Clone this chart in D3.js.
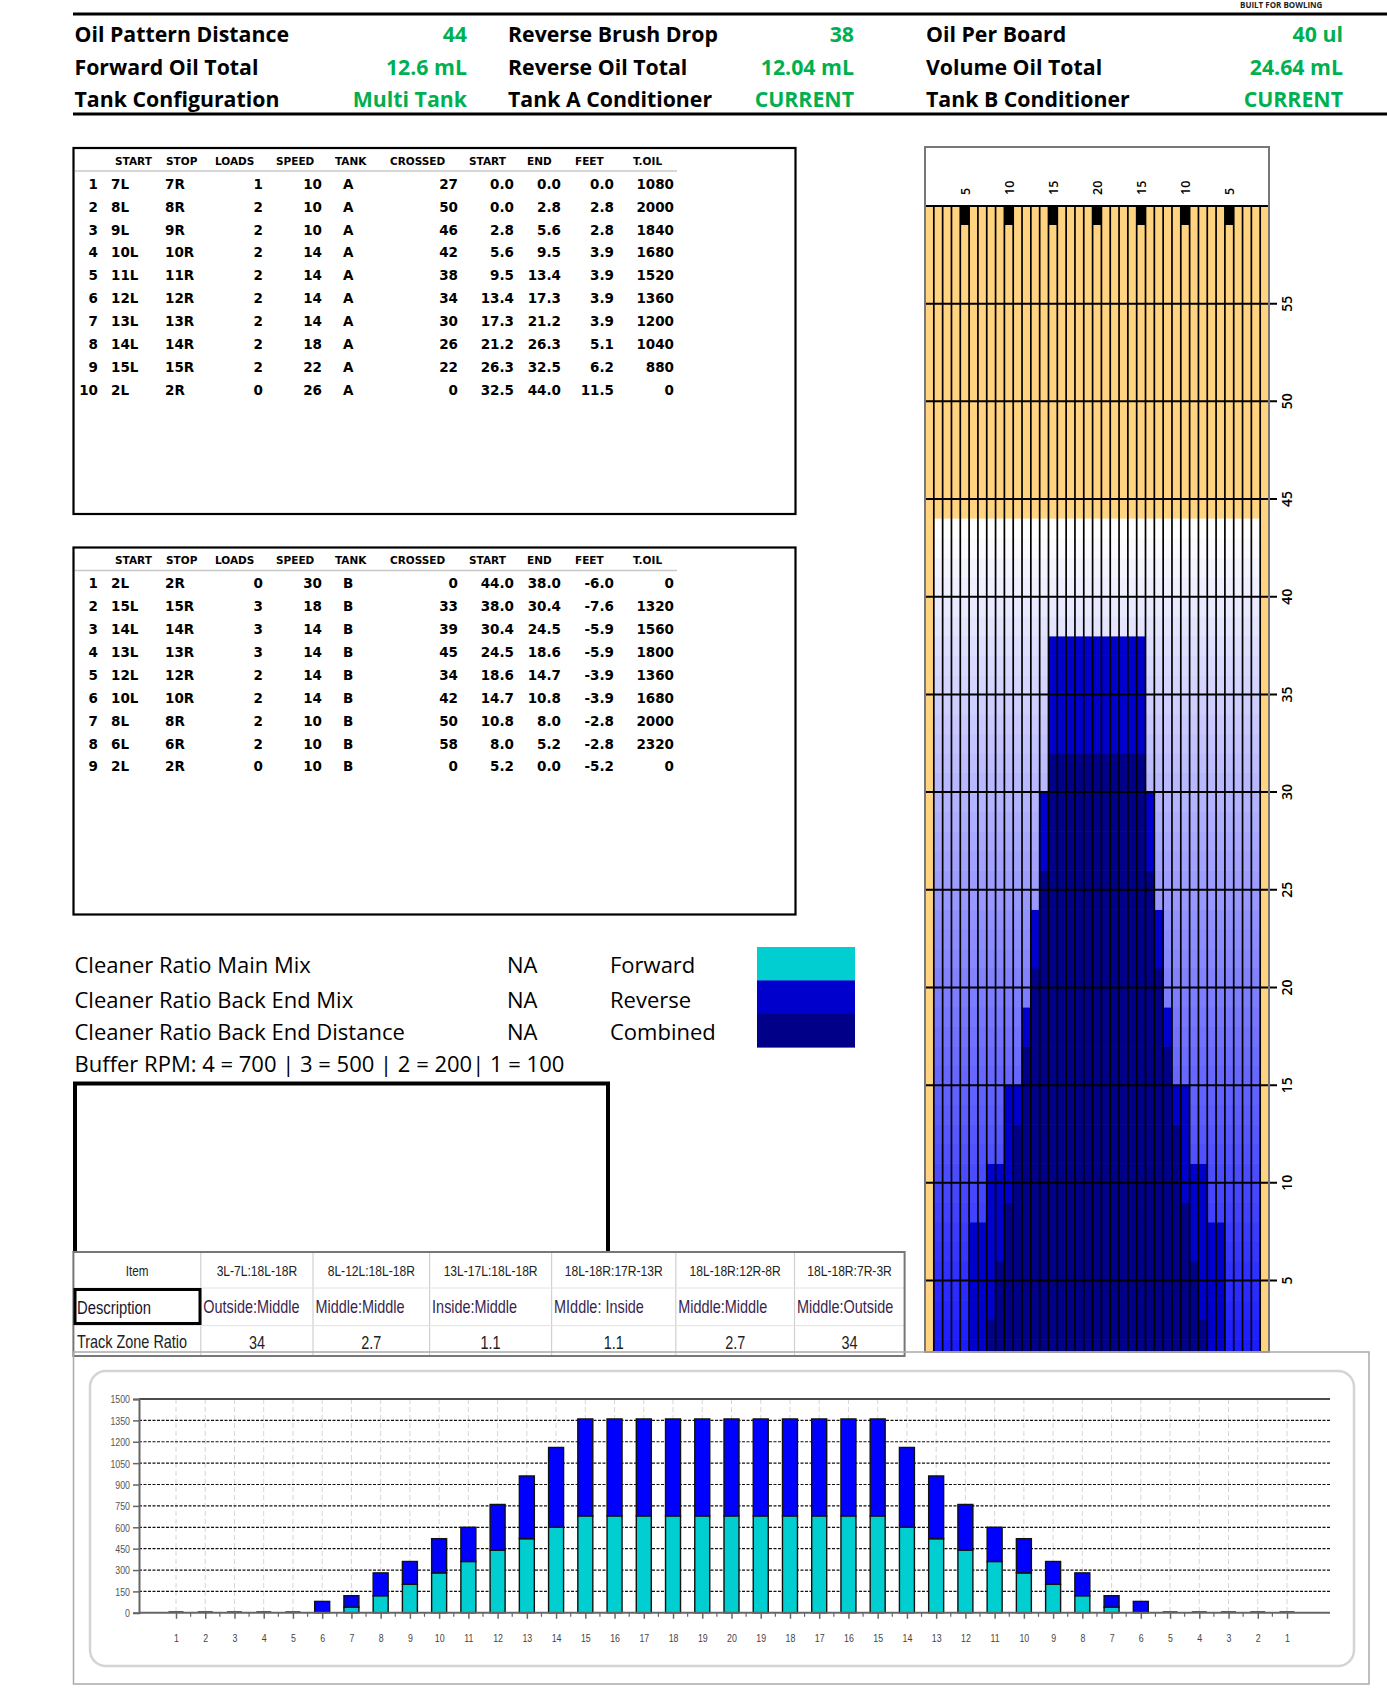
<!DOCTYPE html>
<html>
<head>
<meta charset="utf-8">
<script src="https://cdn.jsdelivr.net/npm/d3@7"></script>
<style>
  body { margin: 0; background: #fff; }
  svg { display: block; }
</style>
</head>
<body>
<svg id="chart" width="1387" height="1693"></svg>
<script>
// ---- data ----
const infoLabels = [
  ["Oil Pattern Distance", "Forward Oil Total", "Tank Configuration"],
  ["Reverse Brush Drop", "Reverse Oil Total", "Tank A Conditioner"],
  ["Oil Per Board", "Volume Oil Total", "Tank B Conditioner"]
]
const infoValues = [
  ["44", "12.6 mL", "Multi Tank"],
  ["38", "12.04 mL", "CURRENT"],
  ["40 ul", "24.64 mL", "CURRENT"]
]

const tableHeaders = ["START", "STOP", "LOADS", "SPEED", "TANK", "CROSSED", "START", "END", "FEET", "T.OIL"]

// idx, start, stop, loads, speed, tank, crossed, start ft, end ft, feet, total oil
const forwardRows = [
  [1, "7L", "7R", 1, 10, "A", 27, 0.0, 0.0, 0.0, 1080],
  [2, "8L", "8R", 2, 10, "A", 50, 0.0, 2.8, 2.8, 2000],
  [3, "9L", "9R", 2, 10, "A", 46, 2.8, 5.6, 2.8, 1840],
  [4, "10L", "10R", 2, 14, "A", 42, 5.6, 9.5, 3.9, 1680],
  [5, "11L", "11R", 2, 14, "A", 38, 9.5, 13.4, 3.9, 1520],
  [6, "12L", "12R", 2, 14, "A", 34, 13.4, 17.3, 3.9, 1360],
  [7, "13L", "13R", 2, 14, "A", 30, 17.3, 21.2, 3.9, 1200],
  [8, "14L", "14R", 2, 18, "A", 26, 21.2, 26.3, 5.1, 1040],
  [9, "15L", "15R", 2, 22, "A", 22, 26.3, 32.5, 6.2, 880],
  [10, "2L", "2R", 0, 26, "A", 0, 32.5, 44.0, 11.5, 0]
]
const reverseRows = [
  [1, "2L", "2R", 0, 30, "B", 0, 44.0, 38.0, -6.0, 0],
  [2, "15L", "15R", 3, 18, "B", 33, 38.0, 30.4, -7.6, 1320],
  [3, "14L", "14R", 3, 14, "B", 39, 30.4, 24.5, -5.9, 1560],
  [4, "13L", "13R", 3, 14, "B", 45, 24.5, 18.6, -5.9, 1800],
  [5, "12L", "12R", 2, 14, "B", 34, 18.6, 14.7, -3.9, 1360],
  [6, "10L", "10R", 2, 14, "B", 42, 14.7, 10.8, -3.9, 1680],
  [7, "8L", "8R", 2, 10, "B", 50, 10.8, 8.0, -2.8, 2000],
  [8, "6L", "6R", 2, 10, "B", 58, 8.0, 5.2, -2.8, 2320],
  [9, "2L", "2R", 0, 10, "B", 0, 5.2, 0.0, -5.2, 0]
]

const legendLabels = ["Cleaner Ratio Main Mix", "Cleaner Ratio Back End Mix", "Cleaner Ratio Back End Distance"]
const legendValues = ["NA", "NA", "NA"]
const swatchLabels = ["Forward", "Reverse", "Combined"]
const bufferText = "Buffer RPM: 4 = 700 | 3 = 500 | 2 = 200| 1 = 100"

const zoneItems = ["3L-7L:18L-18R", "8L-12L:18L-18R", "13L-17L:18L-18R", "18L-18R:17R-13R", "18L-18R:12R-8R", "18L-18R:7R-3R"]
const zoneDesc = ["Outside:Middle", "Middle:Middle", "Inside:Middle", "MIddle: Inside", "Middle:Middle", "Middle:Outside"]
const zoneRatio = ["34", "2.7", "1.1", "1.1", "2.7", "34"]

const boardLabels = [1,2,3,4,5,6,7,8,9,10,11,12,13,14,15,16,17,18,19,20,19,18,17,16,15,14,13,12,11,10,9,8,7,6,5,4,3,2,1]
const forwardOil = [0,0,0,0,0,0,40,120,200,280,360,440,520,600,680,680,680,680,680,680,680,680,680,680,680,600,520,440,360,280,200,120,40,0,0,0,0,0,0]
const reverseOil = [0,0,0,0,0,80,80,160,160,240,240,320,440,560,680,680,680,680,680,680,680,680,680,680,680,560,440,320,240,240,160,160,80,80,0,0,0,0,0]

const laneTopLabels = [5, 10, 15, 20, 15, 10, 5]
const laneArrowBoards = [5, 10, 15, 20, 25, 30, 35]
const laneFeetTicks = [5, 10, 15, 20, 25, 30, 35, 40, 45, 50, 55]
const patternLength = 44
const oilTicks = [0, 150, 300, 450, 600, 750, 900, 1050, 1200, 1350, 1500]

// ---- colours ----
const green = "#00b050"
const cyan = "#00ced1"
const revBlue = "#0000cc"
const navy = "#000088"
const barBlue = "#0000ff"
const laneYellow = "#ffd37f"

const svg = d3.select("#chart")
const narrow = (sel, sx) => sel.attr("transform", function () {
  return `translate(${this.getAttribute("data-x")},${this.getAttribute("data-y")}) scale(${sx},1)`
})

// ---- header block ----
svg.append("text").attr("x", 1240).attr("y", 8)
  .attr("font-family", "Open Sans").attr("font-weight", 700).attr("font-size", 8)
  .attr("fill", "#222").text("BUILT FOR BOWLING")

const headRule = [14, 114]
svg.selectAll("line.rule").data(headRule).join("line")
  .attr("x1", 73).attr("x2", 1387).attr("y1", d => d).attr("y2", d => d)
  .attr("stroke", "#000").attr("stroke-width", 3)

const infoColsX = [{ l: 74.5, v: 467 }, { l: 508, v: 854 }, { l: 926, v: 1343 }]
const infoY = [42, 75, 107]
infoLabels.forEach((col, c) => {
  col.forEach((lab, r) => {
    svg.append("text").attr("x", infoColsX[c].l).attr("y", infoY[r])
      .attr("font-family", "Open Sans").attr("font-weight", 700).attr("font-size", 21.3)
      .attr("fill", "#000").text(lab)
    svg.append("text").attr("x", infoColsX[c].v).attr("y", infoY[r])
      .attr("text-anchor", "end")
      .attr("font-family", "Open Sans").attr("font-weight", 700).attr("font-size", 21.3)
      .attr("fill", green).text(infoValues[c][r])
  })
})

// ---- load tables ----
const colLayout = [
  { h: 115, d: 111, a: "start" },
  { h: 166, d: 165, a: "start" },
  { h: 215, d: 263, a: "end" },
  { h: 276, d: 322, a: "end" },
  { h: 335, d: 343, a: "start" },
  { h: 390, d: 458, a: "end" },
  { h: 469, d: 514, a: "end" },
  { h: 527, d: 561, a: "end" },
  { h: 575, d: 614, a: "end" },
  { h: 633, d: 674, a: "end" }
]

function drawTable(rows, top, bottom) {
  const g = svg.append("g")
  g.append("rect").attr("x", 73.5).attr("y", top).attr("width", 722).attr("height", bottom - top)
    .attr("fill", "#fff").attr("stroke", "#000").attr("stroke-width", 2.2)
  const hy = top + 13
  g.selectAll("text.h").data(tableHeaders).join("text")
    .attr("x", (d, i) => colLayout[i].h).attr("y", hy).attr("dy", "0.35em")
    .attr("font-family", "DejaVu Sans").attr("font-weight", 700).attr("font-size", 10.5)
    .text(d => d)
  g.append("line").attr("x1", 75).attr("x2", 677).attr("y1", top + 23).attr("y2", top + 23)
    .attr("stroke", "#c8c8c8").attr("stroke-width", 1.5)
  const rowY = i => top + 36 + i * 22.9
  rows.forEach((row, i) => {
    g.append("text").attr("x", 98).attr("y", rowY(i)).attr("dy", "0.35em").attr("text-anchor", "end")
      .attr("font-family", "DejaVu Sans").attr("font-weight", 700).attr("font-size", 13.5)
      .text(row[0])
    row.slice(1).forEach((v, j) => {
      const txt = (j >= 6 && j <= 8) ? v.toFixed(1) : String(v)
      g.append("text").attr("x", colLayout[j].d).attr("y", rowY(i)).attr("dy", "0.35em")
        .attr("text-anchor", colLayout[j].a)
        .attr("font-family", "DejaVu Sans").attr("font-weight", 700).attr("font-size", 13.5)
        .text(txt)
    })
  })
}
drawTable(forwardRows, 148, 514)
drawTable(reverseRows, 547.5, 914.5)

// ---- legend ----
const legY = [965, 1000, 1032]
const legFont = 22
legendLabels.forEach((lab, i) => {
  svg.append("text").attr("x", 74.5).attr("y", legY[i]).attr("dy", "0.35em")
    .attr("font-family", "Open Sans").attr("font-size", legFont).text(lab)
  svg.append("text").attr("x", 507).attr("y", legY[i]).attr("dy", "0.35em")
    .attr("font-family", "Open Sans").attr("font-size", legFont).text(legendValues[i])
  svg.append("text").attr("x", 610).attr("y", legY[i]).attr("dy", "0.35em")
    .attr("font-family", "Open Sans").attr("font-size", legFont).text(swatchLabels[i])
})
svg.append("text").attr("x", 74.5).attr("y", 1064.5).attr("dy", "0.35em")
  .attr("font-family", "Open Sans").attr("font-size", legFont).text(bufferText)
const swatchColors = [cyan, revBlue, navy]
svg.selectAll("rect.sw").data(swatchColors).join("rect")
  .attr("x", 757).attr("width", 98)
  .attr("y", (d, i) => 947 + i * 33.4).attr("height", 33.8)
  .attr("fill", d => d)

// empty box
svg.append("rect").attr("x", 75).attr("y", 1083.5).attr("width", 533).attr("height", 180)
  .attr("fill", "#fff").attr("stroke", "#000").attr("stroke-width", 4)

// ---- zone table ----
const zCols = [73.4, 200.8, 313, 429.6, 551.6, 675.8, 794.5, 904.6]
const zRows = [1252, 1288, 1325.6, 1356]
const zg = svg.append("g")
zg.append("rect").attr("x", zCols[0]).attr("y", zRows[0])
  .attr("width", zCols[7] - zCols[0]).attr("height", zRows[3] - zRows[0]).attr("fill", "#fff")
zg.selectAll("line.zc").data(zCols.slice(1, 7)).join("line")
  .attr("x1", d => d).attr("x2", d => d).attr("y1", zRows[0]).attr("y2", zRows[3])
  .attr("stroke", "#d0d0d0").attr("stroke-width", 1.2)
zg.selectAll("line.zr").data([zRows[1], zRows[2]]).join("line")
  .attr("x1", zCols[0]).attr("x2", zCols[7]).attr("y1", d => d).attr("y2", d => d)
  .attr("stroke", "#e2e2e2").attr("stroke-width", 1)
zg.append("rect").attr("x", zCols[0]).attr("y", zRows[0])
  .attr("width", zCols[7] - zCols[0]).attr("height", zRows[3] - zRows[0])
  .attr("fill", "none").attr("stroke", "#777").attr("stroke-width", 2)
zg.append("rect").attr("x", 75).attr("y", 1289.5).attr("width", 125).attr("height", 34)
  .attr("fill", "none").attr("stroke", "#000").attr("stroke-width", 3)

const zText = (x, y, txt, anchor, size, color) => zg.append("text")
  .attr("data-x", x).attr("data-y", y).attr("dy", "0.35em").attr("text-anchor", anchor)
  .attr("font-family", "Liberation Sans").attr("font-size", size).attr("fill", color).text(txt)
  .call(narrow, 0.78)
zText((zCols[0] + zCols[1]) / 2, 1271, "Item", "middle", 15, "#222")
zText(77, 1307, "Description", "start", 19, "#1a1430")
zText(77, 1342, "Track Zone Ratio", "start", 18.5, "#222")
zoneItems.forEach((t, i) => {
  const cx = (zCols[i + 1] + zCols[i + 2]) / 2
  zText(cx, 1271, t, "middle", 15.5, "#222")
  zText(zCols[i + 1] + 2.5, 1307, zoneDesc[i], "start", 18.5, "#3a1f4e")
  zText(cx, 1343, zoneRatio[i], "middle", 18.5, "#222")
})

// ---- lane heat map ----
const bx = d3.scaleBand().domain(d3.range(1, 40)).range([925, 1269])
const fy = d3.scaleLinear().domain([0, 60]).range([1378.2, 206])
const laneBottom = 1352

const qf = v => Math.ceil(v - 0.5)
function reach(rows, distIdx) {
  return d3.range(1, 40).map(b => {
    let r = -1
    rows.forEach(row => {
      const n = parseInt(row[1])
      if (row[3] > 0 && b >= n && b <= 40 - n) r = Math.max(r, qf(row[distIdx]))
    })
    return r
  })
}
const fwdReach = reach(forwardRows, 8)
const revReach = reach(reverseRows, 7)
const fade = d3.interpolateRgb("#ffffff", "#1010ff")

const cells = []
for (let b = 2; b <= 38; b++) {
  for (let f = 0; f < patternLength; f++) {
    const fr = fwdReach[b - 1], rr = revReach[b - 1]
    let c
    if (f < fr && f < rr) c = navy
    else if (f < rr) c = revBlue
    else if (f < fr) c = cyan
    else c = fade(1 - (f + 1) / patternLength)
    cells.push({ b, f, c })
  }
}

svg.append("clipPath").attr("id", "laneClip")
  .append("rect").attr("x", 925).attr("y", 147).attr("width", 344).attr("height", laneBottom - 147)
const lane = svg.append("g").attr("clip-path", "url(#laneClip)")
lane.append("rect").attr("x", 925).attr("y", 147).attr("width", 344).attr("height", laneBottom - 147).attr("fill", "#fff")
lane.append("rect").attr("x", 925).attr("y", fy(60)).attr("width", 344).attr("height", laneBottom - fy(60)).attr("fill", laneYellow)
lane.selectAll("rect.cell").data(cells).join("rect")
  .attr("x", d => bx(d.b)).attr("width", bx.bandwidth())
  .attr("y", d => fy(d.f + 1)).attr("height", d => fy(d.f) - fy(d.f + 1) + 0.6)
  .attr("fill", d => d.c)
lane.selectAll("rect.arrow").data(laneArrowBoards).join("rect")
  .attr("x", d => bx(d)).attr("width", bx.bandwidth())
  .attr("y", fy(60)).attr("height", 19).attr("fill", "#000")
lane.selectAll("line.board").data(d3.range(2, 40)).join("line")
  .attr("x1", d => bx(d)).attr("x2", d => bx(d)).attr("y1", fy(60)).attr("y2", laneBottom)
  .attr("stroke", "#000").attr("stroke-width", 1.7)
lane.append("line").attr("x1", 925).attr("x2", 1269).attr("y1", fy(60)).attr("y2", fy(60))
  .attr("stroke", "#000").attr("stroke-width", 2)

svg.selectAll("line.feet").data(laneFeetTicks).join("line")
  .attr("x1", 926).attr("x2", 1277).attr("y1", d => fy(d)).attr("y2", d => fy(d))
  .attr("stroke", "#000").attr("stroke-width", 2)
svg.selectAll("text.feet").data(laneFeetTicks).join("text")
  .attr("transform", d => `translate(1292,${fy(d)}) rotate(-90)`)
  .attr("text-anchor", "middle")
  .attr("font-family", "Open Sans").attr("font-weight", 600).attr("font-size", 14)
  .text(d => d)
svg.selectAll("text.top").data(laneTopLabels).join("text")
  .attr("transform", (d, i) => `translate(${bx(laneArrowBoards[i]) + bx.bandwidth() / 2 + 5},195) rotate(-90)`)
  .attr("font-family", "Open Sans").attr("font-weight", 600).attr("font-size", 12.5)
  .text(d => d)
svg.append("rect").attr("x", 925).attr("y", 147).attr("width", 344).attr("height", laneBottom - 147)
  .attr("fill", "none").attr("stroke", "#777").attr("stroke-width", 2)

// ---- bar chart ----
svg.append("rect").attr("x", 73.5).attr("y", 1352).attr("width", 1295.5).attr("height", 332)
  .attr("fill", "none").attr("stroke", "#aaa").attr("stroke-width", 1.5)
svg.append("rect").attr("x", 90).attr("y", 1371).attr("width", 1264).attr("height", 295).attr("rx", 16)
  .attr("fill", "#fff").attr("stroke", "#d4d4d4").attr("stroke-width", 2.5)

const boards = d3.range(1, 40)
const x = d3.scalePoint().domain(boards).range([176, 1287])
const y = d3.scaleLinear().domain([0, 1500]).range([1612.8, 1399])
const plotL = 139, plotR = 1330

const chart = svg.append("g")
chart.selectAll("line.vg").data(boards).join("line")
  .attr("x1", d => x(d)).attr("x2", d => x(d)).attr("y1", y(1500)).attr("y2", y(0))
  .attr("stroke", "#d6d6d6").attr("stroke-dasharray", "5,3").attr("stroke-width", 1)
chart.selectAll("line.hg").data(oilTicks.filter(t => t > 0 && t < 1500)).join("line")
  .attr("x1", plotL).attr("x2", plotR).attr("y1", d => y(d)).attr("y2", d => y(d))
  .attr("stroke", "#111").attr("stroke-dasharray", "3,1.5").attr("stroke-width", 1.2)
chart.append("line").attr("x1", plotL).attr("x2", plotR).attr("y1", y(1500)).attr("y2", y(1500))
  .attr("stroke", "#111").attr("stroke-width", 1.5)

const barData = boards.map((b, i) => ({ b, fwd: forwardOil[i], rev: reverseOil[i] }))
const stacked = d3.stack().keys(["fwd", "rev"])(barData)
const barColors = { fwd: cyan, rev: barBlue }
const bw = 15
stacked.forEach(layer => {
  chart.selectAll(null).data(layer.filter(d => d[1] - d[0] > 0)).join("rect")
    .attr("x", d => x(d.data.b) - bw / 2).attr("width", bw)
    .attr("y", d => y(d[1])).attr("height", d => y(d[0]) - y(d[1]))
    .attr("fill", barColors[layer.key]).attr("stroke", "#111").attr("stroke-width", 1.4)
})
chart.selectAll("line.zero").data(barData.filter(d => d.fwd + d.rev === 0)).join("line")
  .attr("x1", d => x(d.b) - bw / 2).attr("x2", d => x(d.b) + bw / 2)
  .attr("y1", y(0) - 1).attr("y2", y(0) - 1).attr("stroke", "#555").attr("stroke-width", 1.5)

// axes
const yAxisG = chart.append("g").attr("transform", `translate(${plotL},0)`)
  .call(d3.axisLeft(y).tickValues(oilTicks).tickSize(6).tickFormat(d => d))
yAxisG.select(".domain").attr("stroke", "#666").attr("stroke-width", 2)
yAxisG.selectAll(".tick line").attr("stroke", "#666").attr("stroke-width", 1.5)
yAxisG.selectAll(".tick text")
  .attr("font-family", "Liberation Sans").attr("font-size", 11).attr("fill", "#555")
  .attr("x", null).attr("dy", "0.35em")
  .attr("transform", "translate(-9,0) scale(0.8,1)")

const xAxisG = chart.append("g").attr("transform", `translate(0,${y(0)})`)
  .call(d3.axisBottom(x).tickSize(6).tickFormat((d, i) => boardLabels[i]))
xAxisG.select(".domain").attr("stroke", "#666").attr("stroke-width", 2)
  .attr("d", `M${plotL},0H${plotR}`)
xAxisG.selectAll(".tick line").attr("stroke", "#666").attr("stroke-width", 1.5)
xAxisG.selectAll(".tick text")
  .attr("font-family", "Liberation Sans").attr("font-size", 11).attr("fill", "#444")
  .attr("y", null).attr("dy", "0.35em")
  .attr("transform", "translate(0,25) scale(0.8,1)")
chart.selectAll("line.minor").data(boards.slice(1)).join("line")
  .attr("x1", d => (x(d) + x(d - 1)) / 2).attr("x2", d => (x(d) + x(d - 1)) / 2)
  .attr("y1", y(0)).attr("y2", y(0) + 4).attr("stroke", "#666").attr("stroke-width", 1.2)
</script>
</body>
</html>
